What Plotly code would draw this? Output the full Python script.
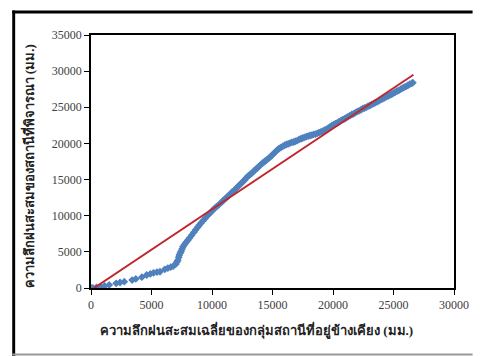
import plotly.graph_objects as go

# Double-mass curve data
x_station = [0, 150, 450, 800, 1130, 1500, 2080, 2400, 2750, 3400, 3700, 4200, 4600, 4900, 5170,
             5450, 5700, 6100, 6350, 6600, 6800,
             7000, 7100, 7180, 7250, 7300, 7380, 7450, 7530, 7600, 7720, 7850, 8000, 8140, 8320,
             8500, 8650, 8810, 8950, 9100, 9280, 9460, 9650, 9860, 10030, 10200, 10380, 10560,
             10750, 10900, 11050, 11200, 11350, 11500, 11650, 11800, 11950, 12100, 12250, 12400,
             12550, 12700, 12850, 13000, 13150, 13300, 13450, 13600, 13750, 13900, 14050, 14200,
             14350, 14500, 14650, 14800, 14950, 15100, 15250, 15400, 15550, 15700, 15850, 16000,
             16150, 16300, 16450, 16600, 16750, 16900, 17050, 17200, 17350, 17500, 17650, 17800,
             17950, 18100, 18250, 18400, 18550, 18700, 18850, 19000, 19150, 19300, 19450, 19600,
             19750, 19900, 20050, 20200, 20350, 20500, 20650, 20800, 20950, 21100, 21250, 21400,
             21550, 21700, 21850, 22000, 22150, 22300, 22450, 22600, 22750, 22900, 23050, 23200,
             23350, 23500, 23650, 23800, 23950, 24100, 24250, 24400, 24550, 24700, 24850, 25000,
             25150, 25300, 25450, 25600, 25750, 25900, 26050, 26200, 26350, 26500, 26600]
y_station = [0, 30, 80, 200, 280, 420, 650, 760, 870, 1100, 1250, 1500, 1800, 1950, 2100,
             2200, 2250, 2580, 2750, 2900, 3040,
             3300, 3600, 3850, 4250, 4560, 4850, 5100, 5400, 5700, 6000, 6300, 6600, 6900, 7300,
             7700, 8050, 8400, 8700, 9000, 9350, 9680, 10050, 10400, 10700, 11000, 11250, 11500,
             11800, 12050, 12300, 12500, 12750, 13000, 13250, 13450, 13700, 13950, 14200, 14450,
             14700, 14950, 15250, 15500, 15700, 15900, 16150, 16400, 16600, 16850, 17100, 17300,
             17500, 17700, 17900, 18100, 18350, 18600, 18850, 19100, 19300, 19450, 19600, 19750,
             19850, 19950, 20050, 20150, 20200, 20300, 20400, 20550, 20650, 20750, 20850, 20950,
             21000, 21100, 21150, 21250, 21300, 21400, 21500, 21600, 21700, 21850, 21950, 22100,
             22300, 22450, 22600, 22750, 22850, 23000, 23150, 23300, 23400, 23550, 23700, 23850,
             24000, 24100, 24250, 24400, 24500, 24650, 24800, 24900, 25000, 25150, 25250, 25400,
             25500, 25650, 25750, 25900, 26050, 26150, 26300, 26450, 26550, 26700, 26800, 26950,
             27100, 27250, 27350, 27500, 27650, 27800, 27900, 28050, 28200, 28300, 28400]

x_line = [250, 26650]
y_line = [0, 29500]

x_ticks = [0, 5000, 10000, 15000, 20000, 25000, 30000]
y_ticks = [0, 5000, 10000, 15000, 20000, 25000, 30000, 35000]

x_title = "ความลึกฝนสะสมเฉลี่ยของกลุ่มสถานีที่อยู่ข้างเคียง (มม.)"
y_title = "ความลึกฝนสะสมของสถานีที่พิจารณา (มม.)"

fig = go.Figure()
fig.add_trace(go.Scatter(x=x_station, y=y_station, mode="markers",
                         marker=dict(symbol="diamond", size=6, color="#4F81BD",
                                     line=dict(width=0)),
                         showlegend=False))
fig.add_trace(go.Scatter(x=x_line, y=y_line, mode="lines",
                         line=dict(color="#C0272D", width=2), showlegend=False))

W, H = 481, 356
L, R, T, B = 91, 19, 35, 68
pw, ph = W - L - R, H - T - B

def px(xp):
    return (xp - L) / pw

def py(yp):
    return (H - B - yp) / ph

tick_font = dict(family="Liberation Serif", size=12, color="#404040")
axis_common = dict(showline=True, linecolor="black", linewidth=1.5, mirror=True,
                   ticks="outside", ticklen=5, tickcolor="black", tickwidth=1,
                   showgrid=False, zeroline=False, tickfont=tick_font)

fig.update_xaxes(range=[0, 30000], tickvals=x_ticks, ticktext=[str(v) for v in x_ticks],
                 **axis_common)
fig.update_yaxes(range=[0, 35000], tickvals=y_ticks, ticktext=[str(v) for v in y_ticks],
                 **axis_common)

title_font = dict(family="Liberation Serif", size=13, color="#222222")
fig.add_annotation(x=px(260), y=py(330), xref="paper", yref="paper", showarrow=False,
                   text="<b>" + x_title + "</b>", font=title_font,
                   xanchor="center", yanchor="middle")
fig.add_annotation(x=px(27), y=py(166), xref="paper", yref="paper", showarrow=False,
                   text="<b>" + y_title + "</b>", font=title_font, textangle=-90,
                   xanchor="center", yanchor="middle")

# outer chart frame drawn as thin filled rectangles (inside the page)
fig.add_shape(type="rect", xref="paper", yref="paper", x0=px(10.5), x1=px(13.5),
              y0=py(356), y1=py(10.5), fillcolor="black", line=dict(width=0))
fig.add_shape(type="rect", xref="paper", yref="paper", x0=px(10.5), x1=px(481),
              y0=py(13.5), y1=py(10.5), fillcolor="black", line=dict(width=0))
fig.add_shape(type="rect", xref="paper", yref="paper", x0=px(10.5), x1=px(481),
              y0=py(355.5), y1=py(353.5), fillcolor="#9a9a9a", line=dict(width=0))

fig.update_layout(width=W, height=H, margin=dict(l=L, r=R, t=T, b=B),
                  paper_bgcolor="white", plot_bgcolor="white")

fig.write_html("out.html", config={"displayModeBar": False},
               post_script=("document.documentElement.style.margin='0';"
                            "document.documentElement.style.overflow='hidden';"
                            "document.body.style.margin='0';"
                            "document.body.style.overflow='hidden';"))
